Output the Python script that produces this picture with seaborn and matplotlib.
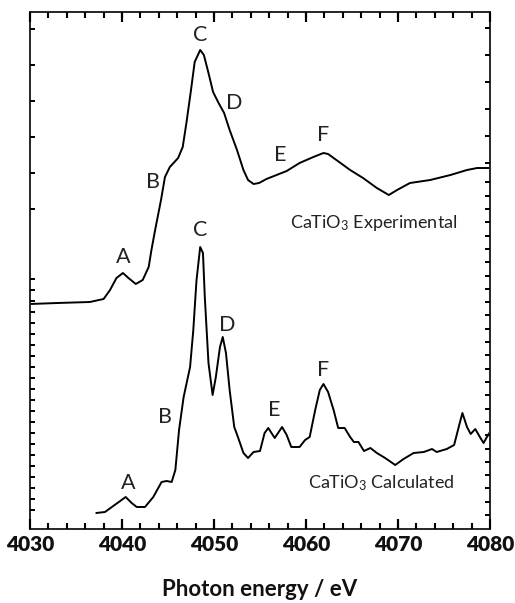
import numpy as np
import pandas as pd
import matplotlib
matplotlib.use("Agg")
import matplotlib.pyplot as plt
from matplotlib.lines import TICKUP, TICKDOWN, TICKLEFT, TICKRIGHT
import seaborn as sns

# ---------------- data ----------------
exp_energy = [4030.0, 4033.0, 4036.5, 4038.0, 4038.7, 4039.4, 4040.1, 4040.7, 4041.5, 4042.25,
              4042.9, 4043.2, 4043.6, 4044.24, 4044.67, 4045.2, 4046.1, 4046.6, 4047.0, 4047.5,
              4047.9, 4048.5, 4048.9, 4049.4, 4049.9, 4050.5, 4051.1, 4051.7, 4052.5, 4053.2,
              4053.7, 4054.3, 4054.9, 4055.7, 4056.8, 4057.9, 4059.3, 4060.8, 4061.9, 4062.4,
              4063.3, 4064.8, 4066.2, 4067.7, 4069.0, 4069.9, 4071.3, 4073.5, 4075.7, 4077.5,
              4078.6, 4080.0]
exp_intensity = [2.25, 2.26, 2.27, 2.30, 2.39, 2.51, 2.56, 2.51, 2.45, 2.49,
                 2.62, 2.79, 2.99, 3.29, 3.52, 3.62, 3.71, 3.82, 4.06, 4.39,
                 4.67, 4.79, 4.74, 4.56, 4.37, 4.26, 4.16, 3.99, 3.79, 3.59,
                 3.49, 3.45, 3.46, 3.50, 3.54, 3.58, 3.66, 3.72, 3.76, 3.75,
                 3.69, 3.59, 3.51, 3.41, 3.34, 3.39, 3.46, 3.49, 3.54, 3.59,
                 3.61, 3.61]

calc_energy = [4037.2, 4038.15, 4039.2, 4040.4, 4041.05, 4041.6, 4042.5, 4043.4, 4044.3, 4044.85,
               4045.4, 4045.8, 4046.2, 4046.7, 4047.4, 4047.75, 4048.1, 4048.5, 4048.8, 4049.0,
               4049.4, 4049.85, 4050.2, 4050.65, 4050.95, 4051.3, 4051.7, 4052.2, 4052.6, 4053.2,
               4053.7, 4054.3, 4055.0, 4055.5, 4055.9, 4056.6, 4057.4, 4057.9, 4058.4, 4059.3,
               4059.9, 4060.4, 4061.0, 4061.5, 4061.9, 4062.4, 4063.0, 4063.5, 4064.2, 4064.8,
               4065.2, 4065.7, 4066.3, 4067.0, 4067.7, 4068.6, 4069.7, 4070.6, 4071.7, 4072.8,
               4073.7, 4074.2, 4075.3, 4076.1, 4076.6, 4077.0, 4077.5, 4077.9, 4078.4, 4078.9,
               4079.3, 4079.6, 4080.0]
calc_intensity = [0.16, 0.17, 0.24, 0.32, 0.26, 0.22, 0.22, 0.32, 0.47, 0.48,
                  0.47, 0.59, 0.99, 1.32, 1.62, 1.99, 2.49, 2.82, 2.76, 2.32,
                  1.66, 1.34, 1.52, 1.82, 1.92, 1.76, 1.39, 1.02, 0.92, 0.76,
                  0.71, 0.77, 0.78, 0.96, 1.01, 0.91, 1.02, 0.94, 0.82, 0.82,
                  0.89, 0.92, 1.19, 1.39, 1.45, 1.37, 1.19, 1.01, 1.01, 0.92,
                  0.87, 0.87, 0.78, 0.81, 0.76, 0.71, 0.64, 0.70, 0.76, 0.77,
                  0.80, 0.77, 0.80, 0.84, 1.02, 1.16, 1.02, 0.95, 1.00, 0.92,
                  0.86, 0.91, 0.97]

peak_labels = ["A", "B", "C", "D", "E", "F"]
exp_label_x = [4040.1, 4043.4, 4048.5, 4052.2, 4057.2, 4061.85]
exp_label_y = [2.72, 3.47, 4.94, 4.26, 3.74, 3.94]
calc_label_x = [4040.65, 4044.7, 4048.5, 4051.4, 4056.5, 4061.85]
calc_label_y = [0.46, 1.12, 2.99, 2.04, 1.19, 1.59]

x_ticks = [4030, 4040, 4050, 4060, 4070, 4080]
x_minor_ticks = list(range(4032, 4080, 2))
x_label = "Photon energy / eV"

# ---------------- style ----------------
sns.set_theme(style="ticks")
plt.rcParams["font.family"] = ["Lato", "DejaVu Sans"]
plt.rcParams["mathtext.fontset"] = "custom"
plt.rcParams["mathtext.rm"] = "Lato"
plt.rcParams["mathtext.it"] = "Lato"

fig = plt.figure(figsize=(5.15, 6.03), dpi=100)
ax = fig.add_axes([30 / 515, 74 / 603, 460 / 515, 517 / 603])

sns.lineplot(x=exp_energy, y=exp_intensity, ax=ax, color="black", linewidth=1.4,
             sort=False, estimator=None)
sns.lineplot(x=calc_energy, y=calc_intensity, ax=ax, color="black", linewidth=1.4,
             sort=False, estimator=None)

ax.set_xlim(4030, 4080)
ax.set_ylim(0, 5.17)
ax.set_xticks(x_ticks)
ax.set_xticks(x_minor_ticks, minor=True)
left_ticks = np.concatenate([np.arange(5.0, 3.15, -0.36), np.arange(0.19, 2.6, 0.11)])
right_ticks = np.concatenate([np.arange(5.01, 3.6, -0.27), np.arange(0.14, 3.55, 0.133)])
ax.set_yticks(left_ticks)
ax.set_yticks(right_ticks, minor=True)

ax.tick_params(axis="x", which="major", direction="in", length=7, width=1.5,
               colors="black", top=True, bottom=True, pad=4, labelsize=15)
ax.tick_params(axis="x", which="minor", direction="in", length=4.5, width=1.3,
               colors="black", top=True, bottom=True)
ax.tick_params(axis="y", which="major", direction="in", length=3.5, width=1.3,
               colors="black", left=True, right=False, labelleft=False, labelright=False)
ax.tick_params(axis="y", which="minor", direction="in", length=3.5, width=1.3,
               colors="black", left=False, right=True, labelleft=False, labelright=False)
for t in ax.get_xticklabels():
    t.set_fontweight("heavy")
    t.set_color("#111111")

# explicit tick marks along the frame (drawn with the axis transforms)
xt = ax.get_xaxis_transform()
yt = ax.get_yaxis_transform()
for pos, mk_b, mk_t in [(x_ticks, 7, 7), (x_minor_ticks, 4.5, 4.5)]:
    ax.plot(pos, [0] * len(pos), transform=xt, ls="none", marker=TICKUP,
            ms=mk_b, mew=1.5, color="black", clip_on=False, zorder=5)
    ax.plot(pos, [1] * len(pos), transform=xt, ls="none", marker=TICKDOWN,
            ms=mk_t, mew=1.5, color="black", clip_on=False, zorder=5)
ax.plot([0] * len(left_ticks), left_ticks, transform=yt, ls="none", marker=TICKRIGHT,
        ms=3.5, mew=1.3, color="black", clip_on=False, zorder=5)
ax.plot([1] * len(right_ticks), right_ticks, transform=yt, ls="none", marker=TICKLEFT,
        ms=3.5, mew=1.3, color="black", clip_on=False, zorder=5)
ax.set_xlim(4030, 4080)
ax.set_ylim(0, 5.17)

for s in ax.spines.values():
    s.set_linewidth(1.4)

ax.set_xlabel(x_label, fontsize=16, fontweight="bold", labelpad=18, color="#111111")
ax.set_ylabel("")

for lab, x, y in zip(peak_labels, exp_label_x, exp_label_y):
    ax.text(x, y, lab, fontsize=15.5, ha="center", va="center", color="#222222")
for lab, x, y in zip(peak_labels, calc_label_x, calc_label_y):
    ax.text(x, y, lab, fontsize=15.5, ha="center", va="center", color="#222222")

ax.text(4067.4, 3.06, r"CaTiO$_3$ Experimental", fontsize=13, ha="center", va="center",
        color="#222222")
ax.text(4068.15, 0.46, r"CaTiO$_3$ Calculated", fontsize=13, ha="center", va="center",
        color="#222222")

fig.savefig("out.png", dpi=100)
